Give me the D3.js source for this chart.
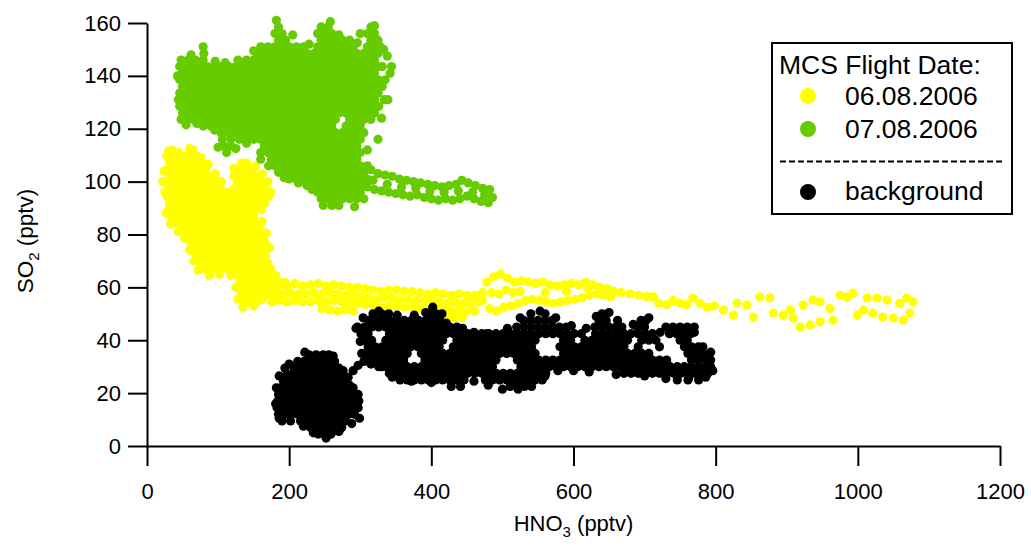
<!DOCTYPE html>
<html>
<head>
<meta charset="utf-8">
<script src="https://cdn.jsdelivr.net/npm/d3@7"></script>
<style>
  body { margin: 0; background: #fff; }
  svg text { font-family: "Liberation Sans", Arial, Helvetica, sans-serif; }
</style>
</head>
<body>
<svg id="chart" width="1031" height="546"></svg>
<script>
// Axis ticks
const xTicks = [0, 200, 400, 600, 800, 1000, 1200];
const yTicks = [0, 20, 40, 60, 80, 100, 120, 140, 160];

// Legend text
const legendTitle = "MCS Flight Date:";
const seriesNames = ["06.08.2006", "07.08.2006", "background"];

// Dense parts of each flight are stored row by row: [SO2, HNO3, HNO3, ...]
// Sparse parts and edge samples (tracks) are stored as [HNO3, SO2] pairs.

// 06.08.2006 (MCS flight)
const aug06Rows = [
  [112, 35, 65],
  [109.5, 28, 37, 46, 55, 64, 72],
  [107, 32, 41, 50, 59, 68, 77, 140],
  [104.5, 28, 37, 46, 55, 64, 73, 82, 131, 140, 149],
  [102, 32, 41, 50, 59, 68, 77, 86, 95, 122, 131, 140, 149, 158],
  [99.5, 28, 37, 46, 55, 64, 73, 82, 91, 100, 127, 136, 145, 154, 163],
  [97, 32, 41, 50, 59, 68, 77, 86, 95, 104, 122, 131, 140, 149, 158, 167],
  [94.5, 28, 37, 46, 55, 64, 73, 82, 91, 100, 109, 118, 127, 136, 145, 154, 163, 171],
  [92, 32, 41, 50, 59, 68, 77, 86, 95, 104, 113, 122, 131, 140, 149, 158, 166],
  [89.5, 30, 37, 46, 55, 64, 73, 82, 91, 100, 109, 118, 127, 136, 145, 154],
  [87, 34, 41, 50, 59, 68, 77, 86, 95, 104, 113, 122, 131, 140, 149],
  [84.5, 39, 46, 55, 64, 73, 82, 91, 100, 109, 118, 127, 136, 145, 154],
  [82, 50, 59, 68, 77, 86, 95, 104, 113, 122, 131, 140, 149, 158],
  [79.5, 57, 64, 73, 82, 91, 100, 109, 118, 127, 136, 145, 154, 163],
  [77, 62, 68, 77, 86, 95, 104, 113, 122, 131, 140, 149, 158, 166],
  [74.5, 66, 73, 82, 91, 100, 109, 118, 127, 136, 145, 154, 163],
  [72, 70, 77, 86, 95, 104, 113, 122, 131, 140, 149, 158, 167],
  [69.5, 75, 82, 91, 100, 109, 118, 127, 136, 145, 154, 163],
  [67, 80, 86, 95, 104, 113, 122, 131, 140, 149, 158, 167, 174],
  [64.5, 127, 136, 145, 154, 163, 172, 181],
  [62, 131, 140, 149, 158, 167, 176, 185, 194],
  [59.5, 130, 136, 145, 154, 163, 172, 181],
  [57, 133, 140, 149, 158, 167, 176],
  [54.5, 138, 145, 154, 176]
];
const aug06Track = [
  // edge samples of the dense cloud
  [24, 104], [25, 96], [27, 88], [33, 84], [44, 81], [53, 78.5], [60, 74], [66, 70], [72, 66.5],
  [88, 64.5], [102, 65], [118, 64.5], [125, 60], [128, 55.5], [135, 52.5], [150, 53], [162, 55.5],
  [172, 58], [180, 63], [170, 69], [172, 75], [168, 80.5], [162, 85], [160, 89.5], [166, 92],
  [174, 96], [170, 100], [162, 103], [153, 106], [133, 107], [122, 105], [112, 96], [104, 100],
  [96, 103], [86, 106.5], [76, 109], [60, 112.5], [45, 111], [30, 111.5], [22, 100],
  // band towards higher HNO3
  [186, 61], [197, 60.5], [208, 61.5], [219, 60.5], [230, 61], [241, 61.5], [252, 60.5], [263, 61],
  [274, 60.5], [285, 60], [296, 60], [307, 59.5], [318, 59], [329, 58.5], [340, 59], [351, 59],
  [362, 58.5], [373, 58.5], [384, 58], [395, 57.5], [406, 58], [417, 57.5], [428, 57], [439, 57.5],
  [450, 57], [461, 57], [472, 58],
  [180, 58], [191, 57.5], [202, 58], [213, 57.5], [224, 57.5], [235, 58], [246, 57.5], [257, 58],
  [268, 57.5], [279, 57], [290, 57], [301, 56.5], [312, 56], [323, 55.5], [334, 56], [345, 56],
  [356, 55.5], [367, 55.5], [378, 55], [389, 54.5], [400, 55], [411, 54.5], [422, 54], [433, 54.5],
  [444, 54], [455, 54], [466, 54.5],
  [186, 55], [197, 54.5], [208, 55], [219, 54.5], [230, 54.5], [241, 55], [252, 54.5], [263, 55],
  [274, 54.5], [285, 54], [296, 54], [307, 53.5], [318, 53], [329, 52.5], [340, 53], [351, 53],
  [362, 52.5], [373, 52.5], [384, 52], [395, 51.5], [406, 52], [417, 51.5], [428, 51], [439, 51.5],
  [450, 51], [461, 51],
  [246, 52], [257, 51.5], [268, 51], [279, 51.5], [290, 51], [400, 48.5], [411, 48.5], [422, 48],
  [433, 48.5], [444, 48.5],
  // loop between 470 and 710 pptv HNO3
  [478, 62], [488, 64], [497, 65], [507, 63.5], [517, 62], [527, 62.5], [537, 62], [547, 61.5],
  [557, 62], [567, 61], [577, 60.5], [587, 61], [597, 61.5], [607, 61], [617, 62], [627, 61],
  [637, 60], [647, 59.5], [657, 58.5], [667, 58], [680, 57.5], [692, 57], [703, 56.5],
  [472, 55], [482, 52], [492, 51], [502, 52.5], [512, 53], [522, 54], [532, 55], [542, 55.5],
  [552, 55], [562, 54.5], [572, 54], [582, 54.5], [592, 55], [602, 55.5], [612, 56], [622, 57],
  [632, 57.5], [642, 57], [652, 56.5],
  [485, 58], [495, 57.5], [505, 59], [515, 58], [525, 58.5], [560, 58], [590, 58.5], [620, 59.5],
  // sparse high-HNO3 part
  [712, 56.5], [720, 54], [731, 53.5], [740, 55], [750, 54], [759, 53.5], [768, 56], [778, 54],
  [788, 52.5], [798, 53], [811, 51.4], [825, 49.5], [830, 54], [844, 53.3], [853, 48.8], [862, 56.4],
  [876, 56], [881, 50.3], [895, 49.5], [905, 51.4], [909, 48.4], [919, 45], [923, 53.3], [933, 45.8],
  [937, 55.2], [947, 54.5], [947, 47], [961, 52], [965, 47.6], [975, 57], [985, 56.4], [993, 57.8],
  [999, 49.5], [1008, 51.4], [1013, 56], [1021, 50.3], [1027, 56], [1035, 48.8], [1041, 55.2],
  [1050, 48.4], [1059, 54], [1064, 47.6], [1069, 56], [1073, 50.3], [1078, 54.5]
];

// 07.08.2006 (MCS flight)
const aug07Rows = [
  [158.5, 185, 245, 255, 315],
  [156, 180, 190, 240, 250, 260, 310, 320],
  [153.5, 185, 195, 245, 255, 265, 275, 285, 315, 325],
  [151, 160, 170, 180, 190, 200, 210, 220, 240, 250, 260, 270, 280, 290, 310, 320, 328],
  [148.5, 80, 155, 165, 175, 185, 195, 205, 215, 225, 235, 245, 255, 265, 275, 285, 295, 305, 315, 325],
  [146, 48, 58, 68, 79, 140, 150, 160, 170, 180, 190, 200, 210, 220, 230, 240, 250, 260, 270, 280, 290, 300, 310, 320],
  [143.5, 46, 55, 65, 75, 85, 95, 105, 115, 125, 135, 145, 155, 165, 175, 185, 195, 205, 215, 225, 235, 245, 255, 265, 275, 285, 295, 305, 315, 325, 331],
  [141, 50, 60, 70, 80, 90, 100, 110, 120, 130, 140, 150, 160, 170, 180, 190, 200, 210, 220, 230, 240, 250, 260, 270, 280, 290, 300, 310, 320, 342],
  [138.5, 46, 55, 65, 75, 85, 95, 105, 115, 125, 135, 145, 155, 165, 175, 185, 195, 205, 215, 225, 235, 245, 255, 265, 275, 285, 295, 305, 315, 325, 335],
  [136, 50, 60, 70, 80, 90, 100, 110, 120, 130, 140, 150, 160, 170, 180, 190, 200, 210, 220, 230, 240, 250, 260, 270, 280, 290, 300, 310, 320, 331],
  [133.5, 46, 55, 65, 75, 85, 95, 105, 115, 125, 135, 145, 155, 165, 175, 185, 195, 205, 215, 225, 235, 245, 255, 265, 275, 285, 295, 305, 315, 325],
  [131, 50, 60, 70, 80, 90, 100, 110, 120, 130, 140, 150, 160, 170, 180, 190, 200, 210, 220, 230, 240, 250, 260, 270, 280, 290, 300, 310, 320, 334],
  [128.5, 46, 55, 65, 75, 85, 95, 105, 115, 125, 135, 145, 155, 165, 175, 185, 195, 205, 215, 225, 235, 245, 255, 265, 275, 285, 295, 305, 315, 326],
  [126, 50, 60, 70, 80, 90, 100, 110, 120, 130, 140, 150, 160, 170, 180, 190, 200, 210, 220, 230, 240, 250, 260, 270, 280, 290, 300, 310, 320],
  [123.5, 48, 55, 65, 75, 85, 95, 105, 115, 125, 135, 145, 155, 165, 175, 185, 195, 205, 215, 225, 235, 245, 255, 265, 285, 295, 305, 315],
  [121, 79, 90, 100, 110, 120, 130, 140, 150, 160, 170, 180, 190, 200, 210, 220, 230, 240, 250, 260, 280, 290, 300],
  [118.5, 104, 115, 125, 135, 145, 155, 165, 175, 185, 195, 205, 215, 225, 235, 245, 255, 265, 275, 285, 295, 305],
  [116, 106, 118, 130, 140, 150, 160, 170, 180, 190, 200, 210, 220, 230, 240, 250, 260, 270, 280, 290, 300],
  [113.5, 108, 118, 165, 175, 185, 195, 205, 215, 225, 235, 245, 255, 265, 275, 285, 295],
  [111, 112, 160, 170, 180, 190, 200, 210, 220, 230, 240, 250, 260, 270, 280, 290, 300],
  [108.5, 175, 185, 195, 205, 215, 225, 235, 245, 255, 265, 275, 285, 295],
  [106, 180, 190, 200, 210, 220, 230, 240, 250, 260, 270, 280, 290, 300, 310],
  [103.5, 185, 195, 205, 215, 225, 235, 245, 255, 265, 275, 285, 295, 305],
  [101, 200, 210, 220, 230, 240, 250, 260, 270, 280, 290, 300, 310],
  [98.5, 225, 235, 245, 255, 265, 275, 285, 295, 305],
  [96, 240, 250, 260, 270, 280, 290, 300],
  [93.5, 245, 255, 265, 275, 285, 295, 305],
  [91, 260, 270]
];
const aug07Track = [
  // edge samples of the dense cloud
  [79, 151], [150, 149.5], [128, 146], [110, 145], [96, 145.5], [205, 155.5], [228, 152], [270, 155.5],
  [296, 152.5], [300, 156], [333, 150], [344, 143.5], [339, 131], [338, 147.5], [330, 124],
  [325, 116], [310, 112], [292, 90.5], [248, 91], [232, 97], [213, 99.5], [193, 101.5], [171, 106],
  [160, 108.5], [140, 114.5], [125, 112.5], [100, 113], [95, 119.5], [70, 122], [55, 121.5],
  [44, 131], [43, 140], [62, 148], [182, 161], [258, 160.5], [320, 159],
  // tail towards higher HNO3
  [315, 104.5], [325, 103], [335, 102.5], [345, 102], [355, 101], [365, 100.5], [375, 100], [385, 99.5],
  [395, 99], [405, 98.5], [415, 98], [425, 98.5], [435, 99], [443, 100.5], [452, 99.5], [462, 98.5],
  [472, 97.5], [482, 97],
  [310, 98], [320, 97], [330, 96.5], [340, 96], [350, 95.5], [360, 95], [370, 94.5], [380, 95],
  [390, 94], [400, 93.5], [410, 93], [420, 93.5], [430, 93], [440, 93.5], [450, 94.5], [460, 93.5],
  [470, 92.5], [480, 92], [486, 94],
  [318, 100.5], [338, 99], [358, 98], [378, 97.5], [398, 96.5], [418, 96], [438, 96.5], [458, 96], [475, 95]
];

// Background flights
const bgRows = [
  [52.5, 402],
  [50, 318, 330, 340, 398, 407, 540, 560, 640],
  [47.5, 312, 322, 332, 342, 352, 362, 372, 382, 392, 402, 412, 530, 540, 550, 560, 570, 636, 646, 695, 702],
  [45, 296, 306, 316, 326, 336, 346, 356, 366, 376, 386, 396, 406, 416, 426, 436, 520, 530, 540, 550, 560, 570, 580, 590, 630, 640, 650, 660, 668, 690, 700, 730, 740, 750, 760, 770],
  [42.5, 301, 311, 341, 351, 361, 371, 381, 391, 401, 411, 421, 431, 441, 451, 461, 471, 481, 491, 501, 511, 521, 531, 541, 551, 561, 571, 581, 591, 601, 611, 631, 641, 651, 661, 671, 681, 691, 701, 711, 735, 745, 755, 765],
  [40, 306, 316, 336, 346, 356, 366, 376, 386, 396, 406, 416, 436, 446, 456, 466, 476, 486, 496, 506, 516, 526, 536, 546, 586, 596, 616, 626, 636, 646, 656, 666, 676, 696, 706, 716, 750, 760],
  [37.5, 311, 321, 331, 341, 351, 361, 371, 381, 391, 401, 411, 431, 441, 451, 461, 471, 481, 491, 501, 511, 521, 531, 541, 581, 591, 601, 611, 621, 631, 641, 651, 661, 671, 691, 721, 756, 766, 776],
  [35, 316, 326, 336, 346, 356, 366, 386, 396, 406, 416, 426, 436, 446, 456, 466, 476, 486, 496, 506, 516, 526, 536, 546, 586, 596, 606, 616, 626, 636, 646, 656, 666, 676, 686, 696, 706, 761, 771, 781, 791],
  [32.5, 321, 331, 341, 351, 361, 391, 401, 411, 421, 431, 441, 451, 461, 471, 481, 491, 521, 531, 541, 551, 561, 571, 581, 591, 601, 611, 621, 631, 641, 651, 661, 671, 681, 691, 701, 711, 721, 731, 766, 776, 786, 793],
  [30, 326, 336, 346, 356, 366, 376, 386, 396, 406, 416, 426, 436, 446, 456, 466, 476, 486, 526, 536, 546, 556, 566, 576, 586, 596, 606, 616, 626, 636, 646, 656, 666, 676, 686, 696, 706, 716, 726, 736, 746, 756, 766, 776, 786, 793],
  [27.5, 341, 351, 361, 371, 381, 391, 401, 411, 421, 431, 441, 451, 461, 471, 481, 491, 501, 511, 521, 531, 541, 551, 561, 671, 681, 691, 701, 711, 721, 731, 741, 751, 761, 771, 781, 789],
  [25, 356, 366, 376, 386, 396, 406, 416, 426, 436, 446, 476, 486, 496, 506, 516, 526, 536, 546, 556, 746, 761, 776],
  [22.5, 441, 511, 521, 531, 541],
  [34.5, 228, 238, 248, 256],
  [32, 212, 221, 230, 239, 248, 257, 264],
  [29.5, 207, 216, 225, 234, 243, 252, 261, 270],
  [27, 197, 203, 212, 221, 230, 239, 248, 257, 266, 275],
  [24.5, 192, 198, 207, 216, 225, 234, 243, 252, 261, 270, 279],
  [22, 188, 194, 203, 212, 221, 230, 239, 248, 257, 266, 275, 284, 290],
  [19.5, 185, 189, 198, 207, 216, 225, 234, 243, 252, 261, 270, 279, 288, 297],
  [17, 184, 194, 203, 212, 221, 230, 239, 248, 257, 266, 275, 284, 293, 298],
  [14.5, 183, 189, 198, 207, 216, 225, 234, 243, 252, 261, 270, 279, 288, 297],
  [12, 185, 194, 203, 212, 221, 230, 239, 248, 257, 266, 275, 284, 292],
  [9.5, 190, 216, 225, 234, 243, 252, 261, 270, 279],
  [7, 230, 239, 248, 257, 266, 274],
  [4.5, 241, 250, 259]
];
const bgTrack = [
  // link between the two clusters
  [283, 26], [290, 28.5], [297, 30.5], [305, 32], [312, 34], [302, 35],
  // edge samples, low-HNO3 cluster
  [200, 31], [222, 35.5], [262, 34], [276, 28.5], [285, 23], [296, 16], [299, 10.5], [288, 8.5],
  [270, 5.5], [252, 3], [234, 5], [220, 7.5], [202, 9.5], [186, 10.5], [181, 16], [182, 22],
  [186, 26.5], [194, 29.5],
  // edge samples, high-HNO3 cluster
  [294, 44.5], [304, 48.5], [326, 51], [352, 49.5], [376, 49.5], [392, 50.5], [415, 50], [421, 46.5],
  [444, 44.5], [460, 43], [478, 42.5], [492, 41.5], [507, 44.5], [525, 48.5], [553, 51], [575, 48.5],
  [597, 45.5], [618, 44.5], [632, 49], [650, 50.5], [662, 47.5], [684, 46], [706, 48.5], [722, 43],
  [770, 43], [782, 37.5], [793, 35.5], [796, 28.5], [786, 26], [762, 25.5], [730, 25.5], [700, 26.5],
  [660, 27], [622, 28], [600, 28.5], [578, 28.5], [560, 26.5], [540, 23.5], [522, 21.5], [500, 21.5],
  [480, 23], [460, 24.5], [428, 22.5], [400, 24], [372, 24.5], [345, 26], [330, 30], [315, 31],
  [308, 35], [300, 39.5]
];

const series = [
  { name: seriesNames[0], color: "#ffff00", rows: aug06Rows, track: aug06Track },
  { name: seriesNames[1], color: "#66cc00", rows: aug07Rows, track: aug07Track },
  { name: seriesNames[2], color: "#000000", rows: bgRows, track: bgTrack }
];

function toPoints(rows, track) {
  const fromRows = rows.flatMap(([so2, ...hno3]) => hno3.map(h => ({ hno3: h, so2 })));
  const fromTrack = track.map(([hno3, so2]) => ({ hno3, so2 }));
  return fromRows.concat(fromTrack);
}

const svg = d3.select("#chart");
const x = d3.scaleLinear().domain([0, 1200]).range([147, 1000]);
const y = d3.scaleLinear().domain([0, 160]).range([446, 23]);

// scatter points
const plot = svg.append("g");
series.forEach(s => {
  plot.append("g")
    .attr("fill", s.color)
    .selectAll("circle")
    .data(toPoints(s.rows, s.track))
    .join("circle")
    .attr("cx", d => x(d.hno3))
    .attr("cy", d => y(d.so2))
    .attr("r", 4.6);
});

// axes
function styleAxis(g) {
  g.attr("font-family", null).attr("font-size", null);
  g.selectAll("path.domain").attr("stroke", "#000").attr("stroke-width", 2);
  g.selectAll(".tick line").attr("stroke", "#000").attr("stroke-width", 2);
  g.selectAll(".tick text").attr("fill", "#000").style("font-size", "22px");
}

svg.append("g")
  .attr("transform", "translate(0,446)")
  .call(d3.axisBottom(x).tickValues(xTicks).tickFormat(d3.format("d"))
    .tickSize(20).tickSizeOuter(0).tickPadding(17))
  .call(styleAxis);

svg.append("g")
  .attr("transform", "translate(147,0)")
  .call(d3.axisLeft(y).tickValues(yTicks).tickFormat(d3.format("d"))
    .tickSize(19).tickSizeOuter(0).tickPadding(7))
  .call(styleAxis);

// axis titles
const xTitle = svg.append("text")
  .attr("x", 573.5).attr("y", 531)
  .attr("text-anchor", "middle")
  .style("font-size", "22px");
xTitle.append("tspan").text("HNO");
xTitle.append("tspan").attr("dy", 6).style("font-size", "15px").text("3");
xTitle.append("tspan").attr("dy", -6).text(" (pptv)");

const yTitle = svg.append("text")
  .attr("transform", "translate(33,241) rotate(-90)")
  .attr("text-anchor", "middle")
  .style("font-size", "22.5px");
yTitle.append("tspan").text("SO");
yTitle.append("tspan").attr("dy", 6).style("font-size", "15px").text("2");
yTitle.append("tspan").attr("dy", -6).text(" (pptv)");

// legend
const legend = svg.append("g");
legend.append("rect")
  .attr("x", 772).attr("y", 43).attr("width", 240).attr("height", 171)
  .attr("fill", "#fff").attr("stroke", "#000").attr("stroke-width", 2);
legend.append("text")
  .attr("x", 779).attr("y", 74)
  .style("font-size", "26.5px")
  .text(legendTitle);

const legendRows = [
  { s: series[0], cy: 96, ty: 105 },
  { s: series[1], cy: 129, ty: 137.5 },
  { s: series[2], cy: 192, ty: 200 }
];
legendRows.forEach(r => {
  legend.append("circle").attr("cx", 808).attr("cy", r.cy).attr("r", 8).attr("fill", r.s.color);
  legend.append("text").attr("x", 845).attr("y", r.ty).style("font-size", "26.5px").text(r.s.name);
});
legend.append("line")
  .attr("x1", 780).attr("x2", 1004).attr("y1", 161.5).attr("y2", 161.5)
  .attr("stroke", "#000").attr("stroke-width", 2).attr("stroke-dasharray", "6,3");
</script>
</body>
</html>
